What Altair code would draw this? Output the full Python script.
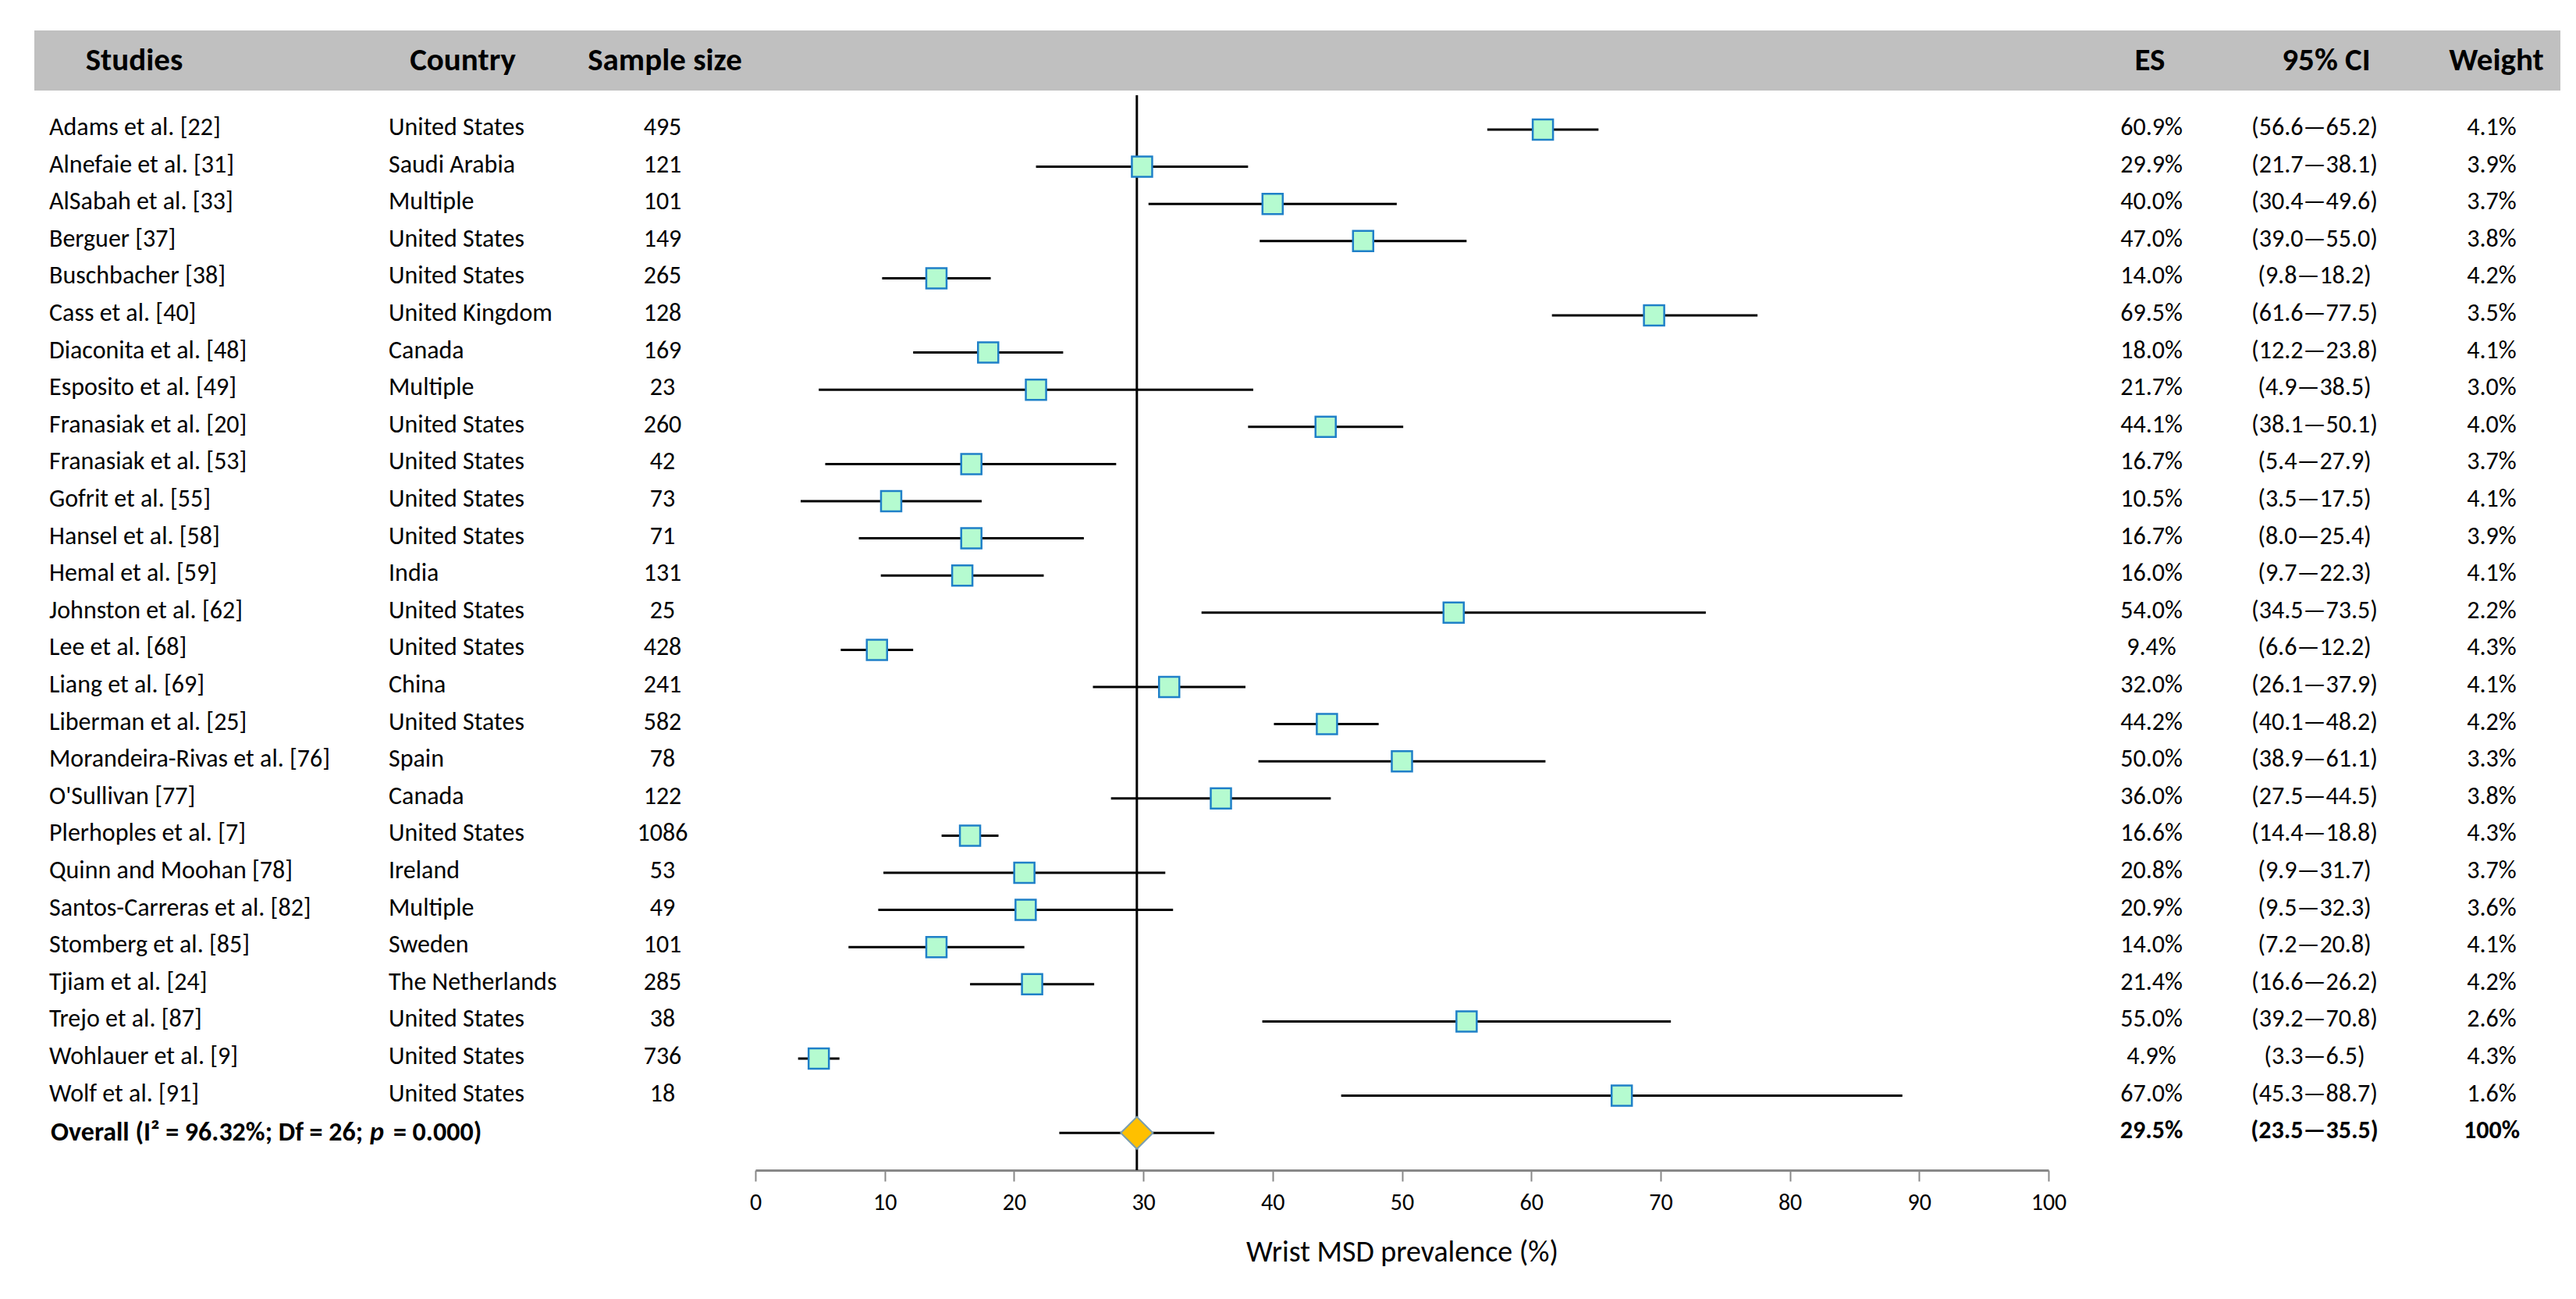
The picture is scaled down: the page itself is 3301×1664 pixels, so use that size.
import altair as alt
import pandas as pd

# ---------------- data ----------------
studies = [
    "Adams et al. [22]", "Alnefaie et al. [31]", "AlSabah et al. [33]", "Berguer [37]",
    "Buschbacher [38]", "Cass et al. [40]", "Diaconita et al. [48]", "Esposito et al. [49]",
    "Franasiak et al. [20]", "Franasiak et al. [53]", "Gofrit et al. [55]", "Hansel et al. [58]",
    "Hemal et al. [59]", "Johnston et al. [62]", "Lee et al. [68]", "Liang et al. [69]",
    "Liberman et al. [25]", "Morandeira-Rivas et al. [76]", "O'Sullivan [77]",
    "Plerhoples et al. [7]", "Quinn and Moohan [78]", "Santos-Carreras et al. [82]",
    "Stomberg et al. [85]", "Tjiam et al. [24]", "Trejo et al. [87]", "Wohlauer et al. [9]",
    "Wolf et al. [91]",
]
countries = [
    "United States", "Saudi Arabia", "Multiple", "United States", "United States",
    "United Kingdom", "Canada", "Multiple", "United States", "United States",
    "United States", "United States", "India", "United States", "United States",
    "China", "United States", "Spain", "Canada", "United States", "Ireland",
    "Multiple", "Sweden", "The Netherlands", "United States", "United States",
    "United States",
]
sample_sizes = [495, 121, 101, 149, 265, 128, 169, 23, 260, 42, 73, 71, 131, 25, 428,
                241, 582, 78, 122, 1086, 53, 49, 101, 285, 38, 736, 18]
es = [60.9, 29.9, 40.0, 47.0, 14.0, 69.5, 18.0, 21.7, 44.1, 16.7, 10.5, 16.7, 16.0,
      54.0, 9.4, 32.0, 44.2, 50.0, 36.0, 16.6, 20.8, 20.9, 14.0, 21.4, 55.0, 4.9, 67.0]
ci_low = [56.6, 21.7, 30.4, 39.0, 9.8, 61.6, 12.2, 4.9, 38.1, 5.4, 3.5, 8.0, 9.7,
          34.5, 6.6, 26.1, 40.1, 38.9, 27.5, 14.4, 9.9, 9.5, 7.2, 16.6, 39.2, 3.3, 45.3]
ci_high = [65.2, 38.1, 49.6, 55.0, 18.2, 77.5, 23.8, 38.5, 50.1, 27.9, 17.5, 25.4, 22.3,
           73.5, 12.2, 37.9, 48.2, 61.1, 44.5, 18.8, 31.7, 32.3, 20.8, 26.2, 70.8, 6.5, 88.7]
weights = [4.1, 3.9, 3.7, 3.8, 4.2, 3.5, 4.1, 3.0, 4.0, 3.7, 4.1, 3.9, 4.1, 2.2, 4.3,
           4.1, 4.2, 3.3, 3.8, 4.3, 3.7, 3.6, 4.1, 4.2, 2.6, 4.3, 1.6]

overall_head = "Overall (I\u00b2 = 96.32%; Df = 26;\u00a0"
overall_p = "p"
overall_tail = "= 0.000)"
overall_es = [29.5]
overall_low = [23.5]
overall_high = [35.5]
overall_weight = ["100%"]

headers_left = ["Studies", "Country", "Sample size"]
headers_right = ["ES", "95% CI", "Weight"]
axis_ticks = [0, 10, 20, 30, 40, 50, 60, 70, 80, 90, 100]
axis_title = "Wrist MSD prevalence (%)"

# ---------------- tables ----------------
n = len(studies)
df = pd.DataFrame({
    "row": list(range(n)),
    "study": studies,
    "country": countries,
    "n": [str(v) for v in sample_sizes],
    "es": es,
    "lo": ci_low,
    "hi": ci_high,
    "es_txt": [f"{v:.1f}%" for v in es],
    "ci_txt": [f"({a:.1f}\u2014{b:.1f})" for a, b in zip(ci_low, ci_high)],
    "w_txt": [f"{v:.1f}%" for v in weights],
})
ov = pd.DataFrame({
    "row": [n],
    "head": [overall_head],
    "p": [overall_p],
    "tail": [overall_tail],
    "es": overall_es,
    "lo": overall_low,
    "hi": overall_high,
    "es_txt": [f"{overall_es[0]:.1f}%"],
    "ci_txt": [f"({overall_low[0]:.1f}\u2014{overall_high[0]:.1f})"],
    "w_txt": overall_weight,
})
hdr = pd.DataFrame({"l": headers_left[:1]})

# ---------------- layout ----------------
FONT = "Calibri, Carlito, Lato, sans-serif"
H = 1491
ROW_STEP = 47.6
ROW0 = 158
d0 = -ROW0 / ROW_STEP
d1 = d0 + H / ROW_STEP
W_LEFT, W_MID, W_RIGHT = 960, 1657, 668
BAND_Y, BAND_Y2, HEAD_Y = 31, 108, 70
BAND_COLOR = "#c0c0c0"
TXT = 32
OTXT = 34
HTXT = 41

yenc = alt.Y("row:Q", scale=alt.Scale(domain=[d0, d1], reverse=True, nice=False, zero=False), axis=None)


def band(x, x2):
    return alt.Chart(hdr).mark_rect(color=BAND_COLOR).encode(
        x=alt.value(x), x2=alt.value(x2), y=alt.value(BAND_Y), y2=alt.value(BAND_Y2))


def header(label, x, align):
    return alt.Chart(pd.DataFrame({"h": [label]})).mark_text(
        align=align, baseline="middle", font=FONT, fontSize=HTXT, fontWeight="bold", color="black"
    ).encode(x=alt.value(x), y=alt.value(HEAD_Y), text="h:N")


def col(data, field, x, align="left", bold=False, italic=False, size=TXT, dy=-3):
    return alt.Chart(data).mark_text(
        align=align, baseline="middle", font=FONT, fontSize=size, dy=dy,
        fontWeight="bold" if bold else "normal",
        fontStyle="italic" if italic else "normal", color="black"
    ).encode(x=alt.value(x), y=yenc, text=f"{field}:N")


left = alt.layer(
    band(36, W_LEFT),
    header(headers_left[0], 164, "center"),
    header(headers_left[1], 585, "center"),
    header(headers_left[2], 844, "center"),
    col(df, "study", 55),
    col(df, "country", 490),
    col(df, "n", 841, "center"),
    col(ov, "head", 57, "left", bold=True, size=OTXT, dy=0),
    col(ov, "p", 466, "left", bold=True, italic=True, size=OTXT, dy=0),
    col(ov, "tail", 496, "left", bold=True, size=OTXT, dy=0),
).properties(width=W_LEFT, height=H)

xaxis = alt.Axis(
    values=axis_ticks, title=axis_title, grid=False, labelFlush=False,
    domainColor="#888888", domainWidth=3, tickColor="#888888", tickWidth=2, tickSize=14,
    labelFont=FONT, labelFontSize=30, labelColor="black", labelPadding=12,
    titleFont=FONT, titleFontSize=38, titleFontWeight="normal", titleColor="black",
    titlePadding=30,
)
xscale = alt.Scale(domain=[0, 100], nice=False, zero=False)


def X(field):
    return alt.X(f"{field}:Q", scale=xscale, axis=xaxis)


vline = alt.Chart(ov).mark_rule(color="black", strokeWidth=3).encode(
    x=X("es"), y=alt.value(114), y2=alt.value(H))
ci_rules = alt.Chart(df).mark_rule(color="black", strokeWidth=3).encode(
    x=X("lo"), x2="hi:Q", y=yenc)
squares = alt.Chart(df).mark_square(
    size=676, filled=True, fill="#b5fbd0", stroke="#1f80c8", strokeWidth=2.5, opacity=1
).encode(x=X("es"), y=yenc)
ov_rule = alt.Chart(ov).mark_rule(color="black", strokeWidth=3).encode(
    x=X("lo"), x2="hi:Q", y=yenc)
diamond = alt.Chart(ov).mark_point(
    shape="diamond", size=1700, filled=True, fill="#ffc000", stroke="#7a9eb0",
    strokeWidth=2, opacity=1
).encode(x=X("es"), y=yenc)

mid = alt.layer(
    band(0, W_MID), vline, ci_rules, squares, ov_rule, diamond
).properties(width=W_MID, height=H)

right = alt.layer(
    band(0, 656),
    header(headers_right[0], 130, "center"),
    header(headers_right[1], 356, "center"),
    header(headers_right[2], 574, "center"),
    col(df, "es_txt", 132, "center"),
    col(df, "ci_txt", 341, "center"),
    col(df, "w_txt", 568, "center"),
    col(ov, "es_txt", 132, "center", bold=True),
    col(ov, "ci_txt", 341, "center", bold=True),
    col(ov, "w_txt", 568, "center", bold=True),
).properties(width=W_RIGHT, height=H)

chart = alt.hconcat(left, mid, right, spacing=0).properties(
    bounds="flush",
    padding={"left": 0, "top": 0, "right": 0, "bottom": 40},
    background="white",
).configure_view(stroke=None)

chart.save("out.html", embed_options={"renderer": "svg", "actions": False})
